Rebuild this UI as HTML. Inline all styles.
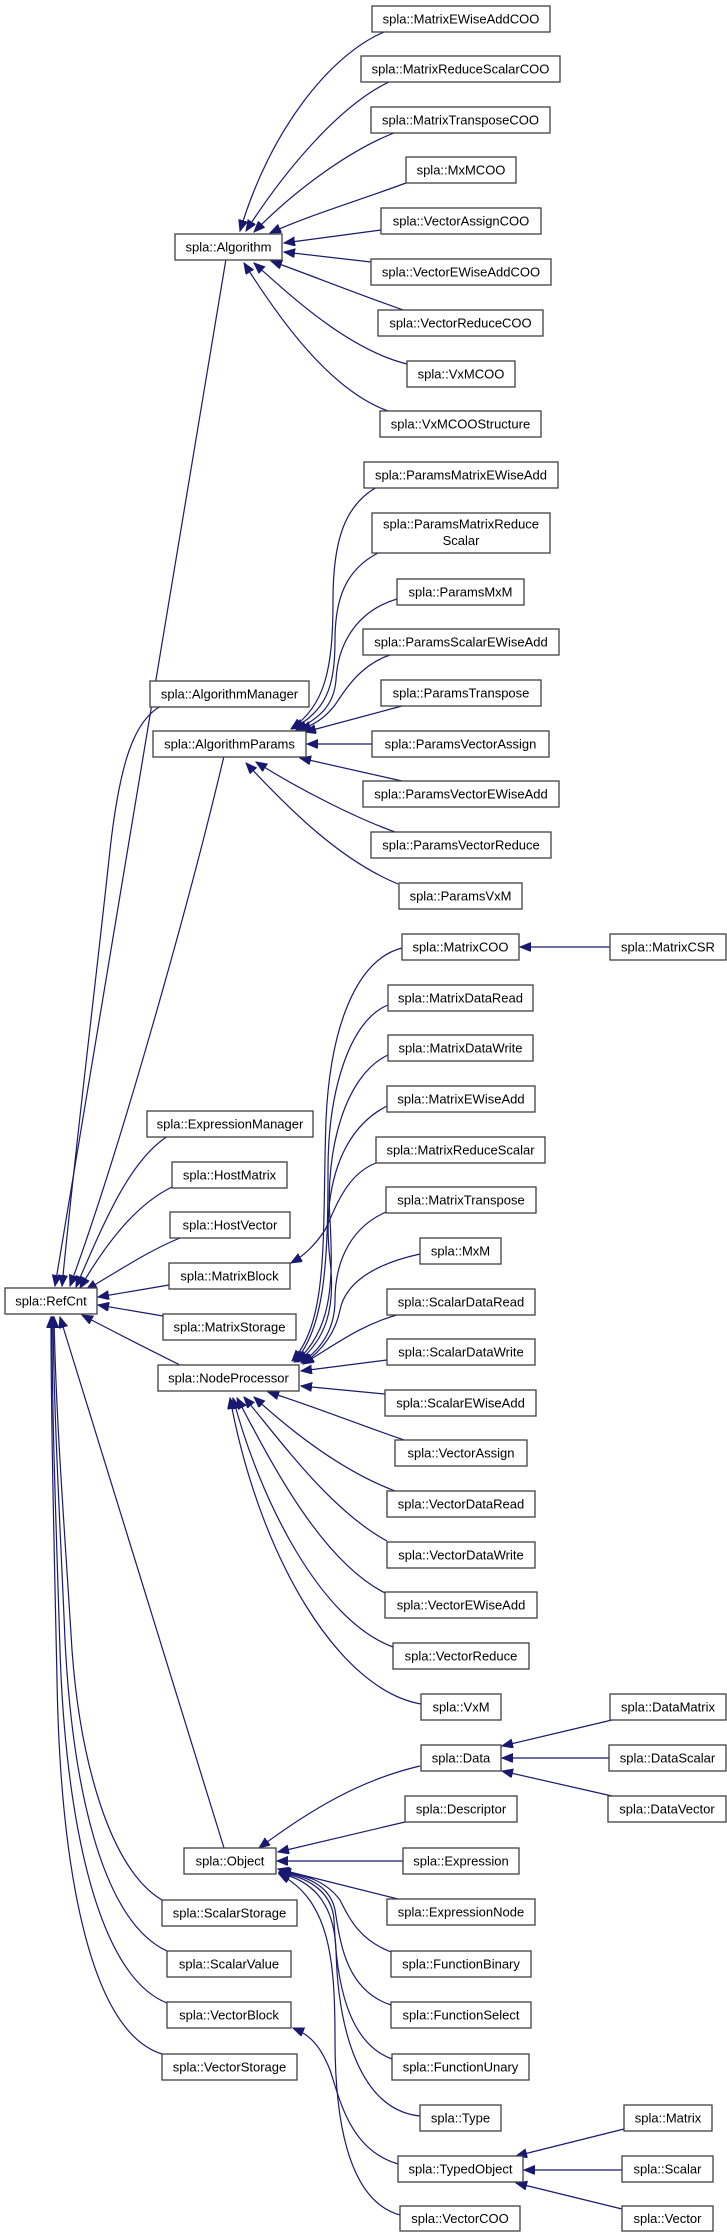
<!DOCTYPE html>
<html><head><meta charset="utf-8">
<style>
html,body{margin:0;padding:0;background:#fff;}
svg{display:block;}
text{font-family:"Liberation Sans",Arial,sans-serif;font-size:13px;fill:#000;}
.e{fill:none;stroke:#191970;stroke-width:1.2;}
.b{fill:#fff;stroke:#404040;stroke-width:1.3;}
</style></head><body>
<svg width="727" height="2232" viewBox="0 0 727 2232" xmlns="http://www.w3.org/2000/svg">
<defs>
<marker id="a" markerUnits="userSpaceOnUse" markerWidth="12" markerHeight="10" refX="11" refY="4.5" orient="auto">
<path d="M0,0 L11,4.5 L0,9 z" fill="#191970" stroke="#191970"/>
</marker>
</defs>
<g class="e" marker-end="url(#a)">
<!-- Algorithm children -->
<path d="M384,32 C330,55 270,130 240,231"/>
<path d="M389,82 C340,105 285,170 246,231"/>
<path d="M394,133 C350,150 295,190 254,232"/>
<path d="M406,183 C360,200 310,215 270,233"/>
<path d="M381,230 L284,243"/>
<path d="M371,262 L284,252"/>
<path d="M406,311 C360,295 310,275 271,261"/>
<path d="M407,364 C350,350 295,300 254,263"/>
<path d="M388,411 C330,390 280,320 244,263"/>
<!-- AlgorithmParams children -->
<path d="M377,487 C345,505 333,540 333,600 C333,670 325,705 291,729"/>
<path d="M378,553 C345,570 335,600 335,640 C335,690 325,710 293,729"/>
<path d="M397,599 C360,610 338,640 336,680 C334,705 320,718 296,730"/>
<path d="M390,655 C360,665 345,690 335,705 C325,718 315,724 300,730"/>
<path d="M402,706 L305,732"/>
<path d="M372,744 L307,744"/>
<path d="M402,781 L300,758"/>
<path d="M398,833 C360,820 300,790 256,762"/>
<path d="M398,884 C340,860 290,810 246,763"/>
<!-- NodeProcessor children -->
<path d="M402,948 C355,960 330,1030 326,1120 C322,1230 330,1320 292,1361"/>
<path d="M388,1005 C350,1020 328,1090 328,1170 C328,1260 325,1330 294,1362"/>
<path d="M388,1055 C345,1075 325,1150 330,1220 C334,1290 330,1330 296,1362"/>
<path d="M387,1106 C340,1130 322,1190 330,1260 C336,1310 325,1340 298,1362"/>
<path d="M386,1212 C345,1230 335,1270 335,1300 C335,1330 320,1350 301,1363"/>
<path d="M420,1254 C370,1265 345,1285 340,1310 C335,1335 320,1352 303,1364"/>
<path d="M400,1314 C360,1325 335,1345 303,1364"/>
<path d="M387,1360 L301,1371"/>
<path d="M385,1394 L301,1386"/>
<path d="M404,1440 C360,1425 310,1405 268,1392"/>
<path d="M395,1491 C340,1470 290,1430 254,1397"/>
<path d="M387,1541 C330,1510 280,1440 244,1397"/>
<path d="M385,1593 C320,1560 270,1460 237,1398"/>
<path d="M393,1647 C320,1620 260,1500 233,1398"/>
<path d="M421,1704 C340,1690 260,1560 230,1398"/>
<!-- MatrixReduceScalar -> MatrixBlock -->
<path d="M376,1163 C345,1175 335,1210 325,1230 C315,1245 305,1255 291,1263"/>
<!-- MatrixCOO <- MatrixCSR -->
<path d="M610,947 L520,947"/>
<!-- RefCnt parents -->
<path d="M226,259 L55,1286"/>
<path d="M161,706 C135,720 120,760 110,850 C95,990 75,1150 62,1286"/>
<path d="M224,756 C190,900 120,1150 70,1286"/>
<path d="M168,1136 C130,1160 105,1220 76,1287"/>
<path d="M172,1187 C135,1205 105,1245 80,1288"/>
<path d="M180,1238 C150,1250 120,1270 86,1290"/>
<path d="M169,1285 L98,1297"/>
<path d="M163,1316 L98,1305"/>
<path d="M180,1365 C150,1350 120,1335 82,1315"/>
<path d="M224,1848 L60,1317"/>
<path d="M162,1900 C110,1870 80,1760 72,1650 C64,1520 56,1420 54,1317"/>
<path d="M167,1951 C100,1920 72,1780 65,1640 C60,1520 54,1420 53,1317"/>
<path d="M167,2003 C95,1975 65,1810 60,1650 C56,1520 52,1420 52,1317"/>
<path d="M162,2054 C85,2030 60,1850 57,1680 C54,1540 51,1420 51,1317"/>
<!-- Object children -->
<path d="M420,1766 C360,1780 310,1810 259,1848"/>
<path d="M405,1822 L278,1852"/>
<path d="M403,1861 L277,1861"/>
<path d="M402,1900 L278,1869"/>
<path d="M391,1952 C360,1940 350,1920 340,1900 C325,1880 305,1875 280,1871"/>
<path d="M391,2005 C345,1990 340,1940 335,1910 C330,1885 305,1875 279,1872"/>
<path d="M392,2059 C340,2040 336,1960 334,1920 C332,1890 305,1876 279,1873"/>
<path d="M420,2116 C360,2110 338,2030 336,1950 C334,1900 310,1880 279,1873"/>
<path d="M400,2215 C345,2200 335,2110 335,2040 C335,1960 330,1900 279,1874"/>
<!-- TypedObject -> VectorBlock -->
<path d="M398,2164 C350,2150 340,2100 330,2070 C320,2045 310,2035 293,2028"/>
<!-- Data children -->
<path d="M612,1720 L502,1746"/>
<path d="M609,1758 L502,1758"/>
<path d="M612,1796 L502,1771"/>
<!-- TypedObject children -->
<path d="M624,2129 L516,2156"/>
<path d="M622,2170 L524,2170"/>
<path d="M622,2209 L516,2183"/>
</g>
<g>
<rect class="b" x="372" y="6" width="178" height="26"/><text x="461" y="23.5" text-anchor="middle">spla::MatrixEWiseAddCOO</text>
<rect class="b" x="361" y="56" width="199" height="26"/><text x="460.5" y="73.5" text-anchor="middle">spla::MatrixReduceScalarCOO</text>
<rect class="b" x="371" y="107" width="179" height="26"/><text x="460.5" y="124.5" text-anchor="middle">spla::MatrixTransposeCOO</text>
<rect class="b" x="406" y="157" width="110" height="26"/><text x="461" y="174.5" text-anchor="middle">spla::MxMCOO</text>
<rect class="b" x="381" y="208" width="160" height="26"/><text x="461" y="225.5" text-anchor="middle">spla::VectorAssignCOO</text>
<rect class="b" x="371" y="259" width="180" height="26"/><text x="461" y="276.5" text-anchor="middle">spla::VectorEWiseAddCOO</text>
<rect class="b" x="378" y="310" width="165" height="26"/><text x="460.5" y="327.5" text-anchor="middle">spla::VectorReduceCOO</text>
<rect class="b" x="407" y="361" width="108" height="26"/><text x="461" y="378.5" text-anchor="middle">spla::VxMCOO</text>
<rect class="b" x="380" y="411" width="161" height="26"/><text x="460.5" y="428.5" text-anchor="middle">spla::VxMCOOStructure</text>
<rect class="b" x="364" y="462" width="194" height="26"/><text x="461" y="479.5" text-anchor="middle">spla::ParamsMatrixEWiseAdd</text>
<rect class="b" x="372" y="513" width="178" height="40"/><text x="461" y="528.5" text-anchor="middle">spla::ParamsMatrixReduce</text><text x="461" y="545" text-anchor="middle">Scalar</text>
<rect class="b" x="397" y="579" width="127" height="26"/><text x="460.5" y="596.5" text-anchor="middle">spla::ParamsMxM</text>
<rect class="b" x="363" y="629" width="196" height="26"/><text x="461" y="646.5" text-anchor="middle">spla::ParamsScalarEWiseAdd</text>
<rect class="b" x="381" y="680" width="160" height="26"/><text x="461" y="697.5" text-anchor="middle">spla::ParamsTranspose</text>
<rect class="b" x="372" y="731" width="177" height="26"/><text x="460.5" y="748.5" text-anchor="middle">spla::ParamsVectorAssign</text>
<rect class="b" x="363" y="781" width="196" height="26"/><text x="461" y="798.5" text-anchor="middle">spla::ParamsVectorEWiseAdd</text>
<rect class="b" x="371" y="832" width="180" height="26"/><text x="461" y="849.5" text-anchor="middle">spla::ParamsVectorReduce</text>
<rect class="b" x="399" y="883" width="123" height="26"/><text x="460.5" y="900.5" text-anchor="middle">spla::ParamsVxM</text>
<rect class="b" x="402" y="934" width="117" height="26"/><text x="460.5" y="951.5" text-anchor="middle">spla::MatrixCOO</text>
<rect class="b" x="610" y="934" width="116" height="26"/><text x="668" y="951.5" text-anchor="middle">spla::MatrixCSR</text>
<rect class="b" x="388" y="985" width="145" height="26"/><text x="460.5" y="1002.5" text-anchor="middle">spla::MatrixDataRead</text>
<rect class="b" x="388" y="1035" width="145" height="26"/><text x="460.5" y="1052.5" text-anchor="middle">spla::MatrixDataWrite</text>
<rect class="b" x="387" y="1086" width="148" height="26"/><text x="461" y="1103.5" text-anchor="middle">spla::MatrixEWiseAdd</text>
<rect class="b" x="376" y="1137" width="169" height="26"/><text x="460.5" y="1154.5" text-anchor="middle">spla::MatrixReduceScalar</text>
<rect class="b" x="386" y="1187" width="150" height="26"/><text x="461" y="1204.5" text-anchor="middle">spla::MatrixTranspose</text>
<rect class="b" x="420" y="1238" width="81" height="26"/><text x="460.5" y="1255.5" text-anchor="middle">spla::MxM</text>
<rect class="b" x="387" y="1289" width="148" height="26"/><text x="461" y="1306.5" text-anchor="middle">spla::ScalarDataRead</text>
<rect class="b" x="387" y="1339" width="148" height="26"/><text x="461" y="1356.5" text-anchor="middle">spla::ScalarDataWrite</text>
<rect class="b" x="385" y="1390" width="151" height="26"/><text x="460.5" y="1407.5" text-anchor="middle">spla::ScalarEWiseAdd</text>
<rect class="b" x="395" y="1440" width="132" height="26"/><text x="461" y="1457.5" text-anchor="middle">spla::VectorAssign</text>
<rect class="b" x="387" y="1491" width="148" height="26"/><text x="461" y="1508.5" text-anchor="middle">spla::VectorDataRead</text>
<rect class="b" x="387" y="1542" width="148" height="26"/><text x="461" y="1559.5" text-anchor="middle">spla::VectorDataWrite</text>
<rect class="b" x="385" y="1592" width="152" height="26"/><text x="461" y="1609.5" text-anchor="middle">spla::VectorEWiseAdd</text>
<rect class="b" x="393" y="1643" width="136" height="26"/><text x="461" y="1660.5" text-anchor="middle">spla::VectorReduce</text>
<rect class="b" x="421" y="1694" width="80" height="26"/><text x="461" y="1711.5" text-anchor="middle">spla::VxM</text>
<rect class="b" x="610" y="1694" width="116" height="26"/><text x="668" y="1711.5" text-anchor="middle">spla::DataMatrix</text>
<rect class="b" x="421" y="1745" width="80" height="26"/><text x="461" y="1762.5" text-anchor="middle">spla::Data</text>
<rect class="b" x="609" y="1745" width="117" height="26"/><text x="667.5" y="1762.5" text-anchor="middle">spla::DataScalar</text>
<rect class="b" x="405" y="1796" width="112" height="26"/><text x="461" y="1813.5" text-anchor="middle">spla::Descriptor</text>
<rect class="b" x="608" y="1796" width="118" height="26"/><text x="667" y="1813.5" text-anchor="middle">spla::DataVector</text>
<rect class="b" x="403" y="1848" width="116" height="26"/><text x="461" y="1865.5" text-anchor="middle">spla::Expression</text>
<rect class="b" x="387" y="1899" width="148" height="26"/><text x="461" y="1916.5" text-anchor="middle">spla::ExpressionNode</text>
<rect class="b" x="391" y="1951" width="140" height="26"/><text x="461" y="1968.5" text-anchor="middle">spla::FunctionBinary</text>
<rect class="b" x="391" y="2002" width="140" height="26"/><text x="461" y="2019.5" text-anchor="middle">spla::FunctionSelect</text>
<rect class="b" x="392" y="2054" width="137" height="26"/><text x="460.5" y="2071.5" text-anchor="middle">spla::FunctionUnary</text>
<rect class="b" x="420" y="2105" width="81" height="26"/><text x="460.5" y="2122.5" text-anchor="middle">spla::Type</text>
<rect class="b" x="624" y="2105" width="88" height="26"/><text x="668" y="2122.5" text-anchor="middle">spla::Matrix</text>
<rect class="b" x="398" y="2156" width="125" height="26"/><text x="460.5" y="2173.5" text-anchor="middle">spla::TypedObject</text>
<rect class="b" x="622" y="2156" width="91" height="26"/><text x="667.5" y="2173.5" text-anchor="middle">spla::Scalar</text>
<rect class="b" x="400" y="2206" width="120" height="25"/><text x="460" y="2223" text-anchor="middle">spla::VectorCOO</text>
<rect class="b" x="622" y="2206" width="91" height="25"/><text x="667.5" y="2223" text-anchor="middle">spla::Vector</text>

<rect class="b" x="175" y="234" width="107" height="26"/><text x="228.5" y="251.5" text-anchor="middle">spla::Algorithm</text>
<rect class="b" x="150" y="681" width="159" height="26"/><text x="229.5" y="698.5" text-anchor="middle">spla::AlgorithmManager</text>
<rect class="b" x="153" y="731" width="153" height="26"/><text x="229.5" y="748.5" text-anchor="middle">spla::AlgorithmParams</text>
<rect class="b" x="147" y="1111" width="166" height="26"/><text x="230" y="1128.5" text-anchor="middle">spla::ExpressionManager</text>
<rect class="b" x="172" y="1162" width="115" height="26"/><text x="229.5" y="1179.5" text-anchor="middle">spla::HostMatrix</text>
<rect class="b" x="170" y="1212" width="120" height="26"/><text x="230" y="1229.5" text-anchor="middle">spla::HostVector</text>
<rect class="b" x="169" y="1263" width="121" height="26"/><text x="229.5" y="1280.5" text-anchor="middle">spla::MatrixBlock</text>
<rect class="b" x="163" y="1314" width="133" height="26"/><text x="229.5" y="1331.5" text-anchor="middle">spla::MatrixStorage</text>
<rect class="b" x="158" y="1365" width="141" height="26"/><text x="228.5" y="1382.5" text-anchor="middle">spla::NodeProcessor</text>
<rect class="b" x="184" y="1848" width="92" height="26"/><text x="230" y="1865.5" text-anchor="middle">spla::Object</text>
<rect class="b" x="162" y="1900" width="135" height="26"/><text x="229.5" y="1917.5" text-anchor="middle">spla::ScalarStorage</text>
<rect class="b" x="167" y="1951" width="124" height="26"/><text x="229" y="1968.5" text-anchor="middle">spla::ScalarValue</text>
<rect class="b" x="167" y="2002" width="124" height="26"/><text x="229" y="2019.5" text-anchor="middle">spla::VectorBlock</text>
<rect class="b" x="162" y="2054" width="135" height="26"/><text x="229.5" y="2071.5" text-anchor="middle">spla::VectorStorage</text>
<rect class="b" x="5" y="1288" width="92" height="26"/><text x="51" y="1305.5" text-anchor="middle">spla::RefCnt</text>
</g>
</svg>
</body></html>
